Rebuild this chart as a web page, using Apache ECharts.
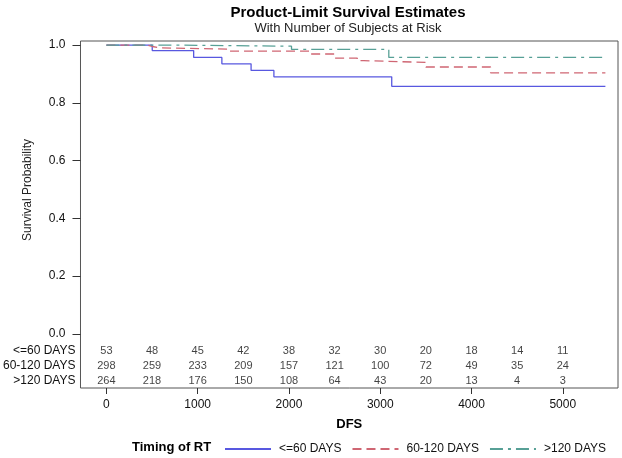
<!DOCTYPE html>
<html>
<head>
<meta charset="utf-8">
<script src="https://cdn.jsdelivr.net/npm/echarts@6/dist/echarts.min.js"></script>
<style>
  html, body { margin: 0; padding: 0; background: #fff; }
  #chart { width: 622px; height: 458px; }
</style>
</head>
<body>
<div id="chart"></div>
<script>
// step points of the Kaplan-Meier curves (days, survival)
var blueDays = [0, 502, 956, 1265, 1585, 1835, 3126, 5467];
var blueSurv = [1.0, 0.981, 0.957, 0.935, 0.912, 0.890, 0.857, 0.857];

var redDays = [0, 447, 502, 586, 1338, 2228, 2501, 2748, 2819, 3500, 4209, 5467];
var redSurv = [1.0, 0.995, 0.990, 0.986, 0.979, 0.969, 0.955, 0.946, 0.940, 0.924, 0.904, 0.904];

var greenDays = [0, 709, 2028, 3094, 5467];
var greenSurv = [1.0, 0.996, 0.985, 0.957, 0.957];

// number at risk table
var riskTimes = [0, 500, 1000, 1500, 2000, 2500, 3000, 3500, 4000, 4500, 5000];
var riskLe60 = [53, 48, 45, 42, 38, 32, 30, 20, 18, 14, 11];
var risk60120 = [298, 259, 233, 209, 157, 121, 100, 72, 49, 35, 24];
var riskGt120 = [264, 218, 176, 150, 108, 64, 43, 20, 13, 4, 3];

var groupNames = ['<=60 DAYS', '60-120 DAYS', '>120 DAYS'];
var xTicks = [0, 1000, 2000, 3000, 4000, 5000];
var yTicks = [0, 0.2, 0.4, 0.6, 0.8, 1.0];

// where the at-risk rows sit on the y scale (below 0)
var rowPos = [-0.059, -0.111, -0.163];

var font = '"Liberation Sans", Arial, sans-serif';

function pairs(xs, ys) {
  return xs.map(function (x, i) { return [x, ys[i]]; });
}
function riskRow(counts, y) {
  return counts.map(function (n, i) { return [riskTimes[i], y, n]; });
}

var chart = echarts.init(document.getElementById('chart'));

var curveStyle = function (name, data, color, dash) {
  return {
    name: name,
    type: 'line',
    step: 'end',
    data: data,
    symbol: 'none',
    color: color,
    lineStyle: { color: color, width: 1.3, type: dash },
    silent: true
  };
};
var riskSeries = function (data) {
  return {
    type: 'scatter',
    data: data,
    symbolSize: 0,
    silent: true,
    label: {
      show: true,
      position: 'inside',
      formatter: function (p) { return p.value[2]; },
      fontFamily: font,
      fontSize: 11,
      color: '#111'
    }
  };
};

chart.setOption({
  animation: false,
  title: {
    text: 'Product-Limit Survival Estimates',
    subtext: 'With Number of Subjects at Risk',
    left: 343,
    textAlign: 'center',
    top: 0,
    itemGap: 2,
    textStyle: { fontFamily: font, fontSize: 15, fontWeight: 'bold', color: '#000' },
    subtextStyle: { fontFamily: font, fontSize: 13, color: '#222' }
  },
  grid: {
    left: 78, right: 4, top: 41, bottom: 70,
    show: true, borderColor: '#555', borderWidth: 1
  },
  xAxis: {
    type: 'value',
    min: -284, max: 5605,
    name: 'DFS',
    nameLocation: 'middle',
    nameGap: 30,
    nameTextStyle: { fontFamily: font, fontSize: 13, fontWeight: 'bold', color: '#000' },
    axisLine: { show: false, onZero: false },
    splitLine: { show: false },
    axisTick: { show: true, length: 6, customValues: xTicks, lineStyle: { color: '#333' } },
    axisLabel: {
      customValues: xTicks, margin: 11, fontFamily: font, fontSize: 12, color: '#111',
      formatter: function (v) { return String(v); }
    }
  },
  yAxis: [{
    type: 'value',
    min: -0.187, max: 1.014,
    axisLine: { show: false, onZero: false },
    splitLine: { show: false },
    axisTick: { show: true, length: 8, customValues: yTicks, lineStyle: { color: '#333' } },
    axisLabel: {
      customValues: yTicks, margin: 15, fontFamily: font, fontSize: 12, color: '#111',
      formatter: function (v) { return v.toFixed(1); }
    }
  }, {
    type: 'value',
    position: 'left',
    min: -0.187, max: 1.014,
    axisLine: { show: false, onZero: false },
    splitLine: { show: false },
    axisTick: { show: false },
    axisLabel: {
      customValues: rowPos, margin: 5, fontFamily: font, fontSize: 12, color: '#111',
      formatter: function (v) { return groupNames[rowPos.indexOf(v)]; }
    }
  }],
  legend: {
    data: groupNames,
    left: 219,
    top: 438,
    itemWidth: 46,
    itemHeight: 10,
    itemGap: 10,
    itemStyle: { opacity: 0 },
    textStyle: { fontFamily: font, fontSize: 12, color: '#111', padding: [0, 0, 0, 3] }
  },
  graphic: [{
    type: 'text',
    left: 132, top: 441,
    style: { text: 'Timing of RT', fontFamily: font, fontSize: 13, fontWeight: 'bold', fill: '#000' }
  }, {
    type: 'text',
    x: 28, y: 190,
    rotation: Math.PI / 2,
    style: {
      text: 'Survival Probability', fontFamily: font, fontSize: 12, fill: '#222',
      align: 'center', verticalAlign: 'middle'
    }
  }],
  series: [
    curveStyle(groupNames[0], pairs(blueDays, blueSurv), '#5858e0', 'solid'),
    curveStyle(groupNames[1], pairs(redDays, redSurv), '#cf6673', [9, 5]),
    curveStyle(groupNames[2], pairs(greenDays, greenSurv), '#57a096', [13, 5, 3, 5]),
    riskSeries(riskRow(riskLe60, rowPos[0])),
    riskSeries(riskRow(risk60120, rowPos[1])),
    riskSeries(riskRow(riskGt120, rowPos[2]))
  ]
});
</script>
</body>
</html>
